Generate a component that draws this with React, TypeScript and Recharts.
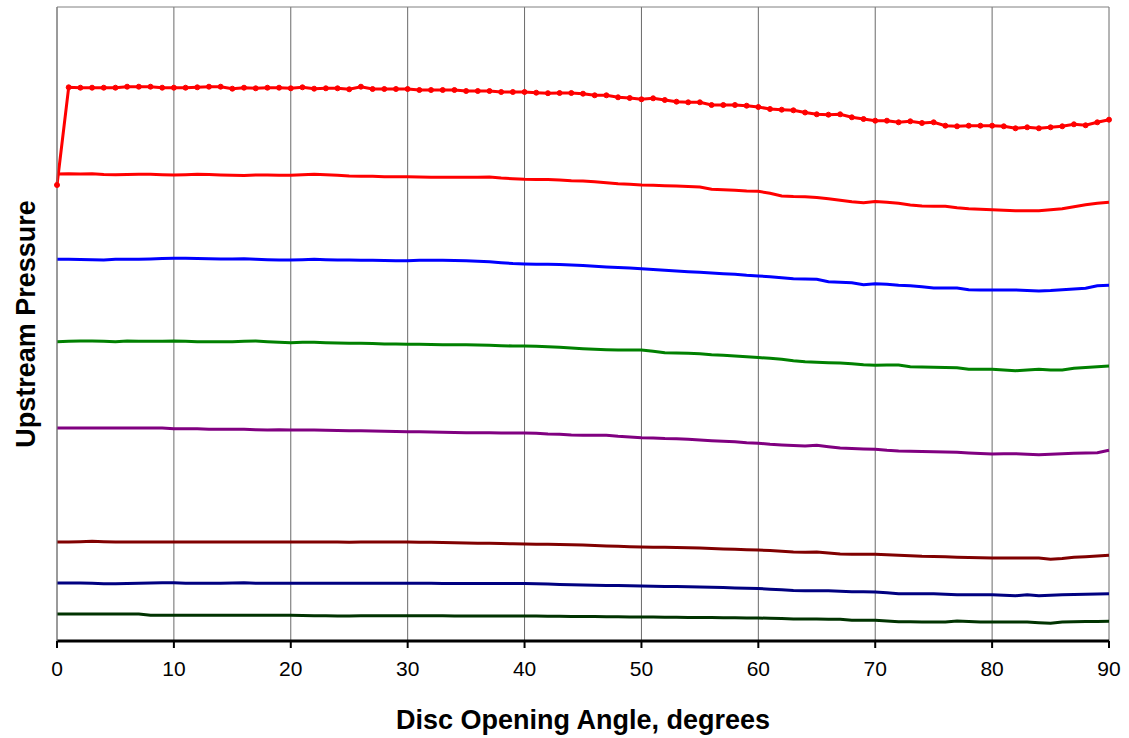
import { LineChart, Line, XAxis, YAxis, CartesianGrid, ReferenceLine } from "recharts";

// disc opening angle, degrees
const angles = [
  0, 1, 2, 3, 4, 5, 6, 7, 8, 9, 10, 11, 12, 13, 14, 15, 16, 17, 18, 19, 20,
  21, 22, 23, 24, 25, 26, 27, 28, 29, 30, 31, 32, 33, 34, 35, 36, 37, 38, 39, 40,
  41, 42, 43, 44, 45, 46, 47, 48, 49, 50, 51, 52, 53, 54, 55, 56, 57, 58, 59, 60,
  61, 62, 63, 64, 65, 66, 67, 68, 69, 70, 71, 72, 73, 74, 75, 76, 77, 78, 79, 80,
  81, 82, 83, 84, 85, 86, 87, 88, 89, 90,
];

const xTicks = [0, 10, 20, 30, 40, 50, 60, 70, 80, 90];

// upstream pressure, relative units (no scale on the original)
const s1 = [
  456, 553.7, 553.3, 553.3, 553.3, 553.3, 554.3, 554.3, 554.3, 553.3, 553.3,
  553.3, 553.7, 554.3, 554.3, 552.3, 553.3, 552.7, 553.3, 553.3, 552.7,
  553.7, 552.3, 552.7, 552.7, 551.7, 554.3, 552, 552, 552, 552,
  551, 551, 551, 551, 550, 550, 550, 549, 549, 549,
  548.3, 547.8, 548, 548, 547.3, 545.7, 545.7, 543.7, 543, 541.7,
  542.7, 541, 539.3, 538.7, 538.7, 536, 536, 536, 535.3, 534,
  532, 531.3, 530.7, 528.5, 526.7, 526.3, 526.7, 523.7, 522, 520.3,
  520.3, 518.7, 519.7, 518, 518.7, 515.3, 514.7, 515.3, 515.3, 515.3,
  514.7, 512.7, 513.7, 512.7, 513.7, 514.7, 516.7, 515.7, 518.7, 521.3,
];

const s2 = [
  467, 467.3, 467, 467.3, 466.5, 466.3, 466.5, 466.7, 466.7, 466.3, 466,
  466.3, 466.7, 466.5, 466, 465.7, 465.5, 466, 466, 465.7, 465.7,
  466.3, 466.7, 466.3, 465.7, 465, 464.7, 464.7, 464.3, 464.3, 464.3,
  464, 463.7, 463.7, 463.7, 463.7, 463.7, 464, 463, 462.3, 461.7,
  461.5, 461.5, 461, 460.3, 460, 459.3, 458.3, 457.3, 456.7, 456,
  455.7, 455.3, 455, 454.5, 454, 451.7, 451.3, 450.7, 450, 449.7,
  447.7, 445, 444.5, 444.3, 443.5, 442.3, 440.7, 439.3, 438.3, 439.5,
  438.7, 437.7, 436, 435, 434.7, 434.7, 433.3, 432.3, 431.7, 431.3,
  430.7, 430.3, 430.3, 430.3, 431.3, 432.3, 434.3, 436.3, 437.7, 438.7,
];

const s3 = [
  381.7, 381.7, 381.5, 381.3, 381, 381.7, 381.7, 381.7, 382, 382.5, 382.7,
  382.7, 382.5, 382.3, 382, 382, 382.3, 381.7, 381.3, 381, 381,
  381.3, 381.7, 381.3, 381, 381, 380.7, 380.7, 380.5, 380.3, 380.3,
  380.7, 380.7, 380.7, 380.5, 380.3, 379.7, 379.3, 378.3, 377.5, 377,
  376.7, 376.7, 376.5, 376, 375.5, 374.7, 374, 373.5, 373, 372.3,
  371.5, 370.7, 370, 369.3, 368.7, 368, 367.3, 366.7, 365.7, 365,
  364.3, 363.3, 362.3, 362, 361.7, 359.3, 358.7, 358.3, 356.3, 357.3,
  356.7, 355.7, 355.3, 354.3, 353, 353, 353, 351.3, 351, 351,
  351, 351, 350.5, 350, 350.5, 351.3, 352, 352.7, 355.3, 355.7,
];

const s4 = [
  299.3, 299.7, 300, 300, 299.7, 299.3, 300, 299.7, 299.7, 299.7, 300,
  299.7, 299.3, 299.3, 299.3, 299.3, 299.7, 300, 299.3, 298.7, 298.3,
  298.7, 298.7, 298.3, 298, 297.7, 297.7, 297.5, 297, 297, 296.7,
  296.7, 296.5, 296.3, 296.3, 296.3, 296, 295.7, 295.3, 295, 295,
  294.7, 294.3, 293.7, 293, 292.3, 291.7, 291.3, 291, 291, 291,
  289.7, 288.3, 288, 287.7, 287.3, 286.3, 285.7, 285, 284.3, 283.5,
  282.7, 281.7, 280.3, 279.3, 278.7, 278.3, 278, 277.3, 276.3, 275.7,
  276, 276, 274.3, 274, 273.7, 273.5, 273.3, 271.7, 271.7, 271.7,
  271, 270.3, 271, 271.7, 271, 271, 272.7, 273.5, 274.3, 275,
];

const s5 = [
  213, 213, 213, 213, 213, 213, 213, 213, 213, 213, 212.3,
  212.3, 212.3, 211.7, 211.7, 211.7, 211.7, 211.3, 211, 211.3, 211,
  211, 211, 210.7, 210.5, 210.3, 210.3, 210, 209.7, 209.5, 209.3,
  209.3, 209, 208.7, 208.5, 208.3, 208.3, 208.3, 208, 208, 208,
  207.7, 207, 206.7, 206, 205.7, 205.7, 205.7, 204.7, 204, 203.3,
  203, 202.5, 202.3, 201.7, 201, 200.3, 199.7, 199.3, 198.3, 197.7,
  196.7, 196, 195.5, 195, 195.7, 194.3, 193, 192.5, 192, 191.7,
  190.7, 190, 189.7, 189.5, 189.3, 189, 188.7, 188, 187.5, 187,
  187.3, 187.3, 186.7, 186.3, 186.7, 187.3, 187.7, 188, 188.3, 190.7,
];

const s6 = [
  99, 99, 99.3, 99.7, 99.3, 99, 99, 99, 99, 99, 99,
  99, 99, 99, 99, 99, 99, 99, 99, 99, 99,
  99, 99, 99, 99, 98.8, 99, 99, 99, 99, 99,
  98.8, 98.7, 98.5, 98.3, 98, 97.8, 97.7, 97.5, 97.2, 97,
  96.8, 96.7, 96.5, 96.2, 96, 95.5, 95, 94.7, 94.3, 94,
  93.8, 93.7, 93.5, 93.2, 93, 92.5, 92, 91.7, 91.3, 91,
  90.5, 89.7, 89, 88.7, 89, 88, 87, 86.8, 86.7, 86.7,
  86.2, 85.7, 85.2, 84.7, 84.5, 84.3, 83.8, 83.5, 83.2, 83,
  83, 83, 83, 83, 81.7, 82.5, 83.7, 84.3, 85, 85.7,
];

const s7 = [
  58, 58, 58, 57.7, 57.3, 57.3, 57.5, 57.7, 58, 58.3, 58.3,
  57.7, 57.7, 57.7, 57.7, 58, 58.3, 57.7, 57.7, 57.7, 57.7,
  57.7, 57.7, 57.7, 57.7, 57.7, 57.7, 57.7, 57.7, 57.7, 57.7,
  57.7, 57.7, 57.6, 57.6, 57.6, 57.5, 57.5, 57.5, 57.5, 57.5,
  57.2, 56.9, 56.6, 56.3, 56, 55.8, 55.6, 55.4, 55.2, 55,
  54.8, 54.6, 54.4, 54.2, 54, 53.7, 53.4, 53.1, 52.8, 52.5,
  51.8, 51.2, 50.6, 50.3, 50.3, 50.3, 49.8, 49.3, 49.2, 49,
  48.2, 47.3, 47.3, 47.3, 47.3, 46.8, 46.3, 46.3, 46.3, 46.3,
  45.8, 45.3, 46.3, 45.3, 45.8, 46.3, 46.5, 46.7, 47, 47.3,
];

const s8 = [
  27, 27, 27, 27, 27, 27, 27, 27, 25.7, 25.7, 25.7,
  25.7, 25.7, 25.7, 25.7, 25.7, 25.7, 25.7, 25.7, 25.7, 25.7,
  25.5, 25.3, 25.2, 25.1, 25, 25.2, 25.3, 25.3, 25.3, 25.3,
  25.2, 25.2, 25.2, 25.1, 25.1, 25.1, 25, 25, 25, 25,
  24.9, 24.8, 24.7, 24.6, 24.5, 24.4, 24.3, 24.2, 24.1, 24,
  23.9, 23.8, 23.7, 23.6, 23.5, 23.4, 23.3, 23.2, 23.1, 23,
  22.7, 22.4, 22.1, 22, 21.9, 21.8, 21.7, 20.7, 20.7, 20.7,
  20, 19.3, 19.2, 19.1, 19, 19, 20, 19.5, 19, 19,
  19, 19, 19, 18.3, 17.7, 19, 19.2, 19.4, 19.6, 19.7,
];

const series = [
  { key: "s1", values: s1, color: "#FF0000", markers: true },
  { key: "s2", values: s2, color: "#FF0000", markers: false },
  { key: "s3", values: s3, color: "#0000FF", markers: false },
  { key: "s4", values: s4, color: "#008000", markers: false },
  { key: "s5", values: s5, color: "#800080", markers: false },
  { key: "s6", values: s6, color: "#800000", markers: false },
  { key: "s7", values: s7, color: "#000080", markers: false },
  { key: "s8", values: s8, color: "#003300", markers: false },
];

const data = angles.map((a, i) => {
  const row: Record<string, number> = { angle: a };
  series.forEach((s) => {
    row[s.key] = s.values[i];
  });
  return row;
});

const Y_MAX = 634;

export default function App() {
  return (
    <div style={{ position: "absolute", left: 0, top: 0, fontFamily: "'Liberation Sans', Arial, sans-serif" }}>
      <LineChart width={1129} height={738} data={data} margin={{ top: 7, right: 20, left: 0, bottom: 0 }}>
        <CartesianGrid horizontal={false} stroke="#6a6a6a" strokeWidth={1} />
        <XAxis
          dataKey="angle"
          type="number"
          domain={[0, 90]}
          ticks={xTicks}
          height={97}
          axisLine={{ stroke: "#000", strokeWidth: 3 }}
          tickLine={{ stroke: "#000", strokeWidth: 2 }}
          tickSize={7}
          tickMargin={13}
          tick={{ fill: "#000", fontSize: 21 }}
          label={{
            value: "Disc Opening Angle, degrees",
            position: "insideBottom",
            offset: 9,
            style: { fontWeight: "bold", fontSize: 27, fill: "#000" },
          }}
        />
        <YAxis
          type="number"
          domain={[0, Y_MAX]}
          width={57}
          tick={false}
          tickLine={false}
          axisLine={{ stroke: "#808080", strokeWidth: 1 }}
          label={{
            value: "Upstream Pressure",
            angle: -90,
            position: "center",
            dx: -3,
            style: { fontWeight: "bold", fontSize: 27, fill: "#000", textAnchor: "middle" },
          }}
        />
        <ReferenceLine y={Y_MAX} stroke="#808080" strokeWidth={1} />
        {series.map((s) => (
          <Line
            key={s.key}
            type="linear"
            dataKey={s.key}
            stroke={s.color}
            strokeWidth={3}
            dot={s.markers ? { r: 2.5, fill: s.color, stroke: s.color, strokeWidth: 1 } : false}
            activeDot={false}
            isAnimationActive={false}
          />
        ))}
      </LineChart>
    </div>
  );
}
